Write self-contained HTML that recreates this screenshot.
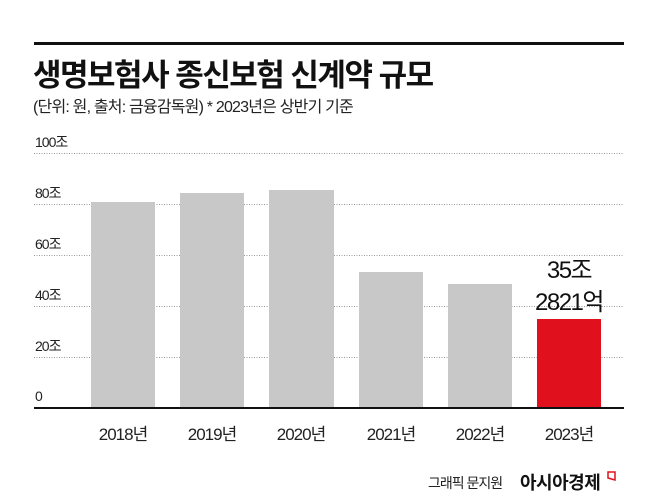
<!DOCTYPE html>
<html><head><meta charset="utf-8"><style>
body{margin:0;background:#fff;}
svg text{font-family:"Liberation Sans","Noto Sans CJK KR",sans-serif;}
</style></head><body>
<svg width="658" height="499" xmlns="http://www.w3.org/2000/svg">
<rect width="658" height="499" fill="#fff"/>
<rect x="34" y="42" width="590" height="3" fill="#111"/>
<text x="33" y="86" font-size="31" font-weight="bold" fill="#111" letter-spacing="-1.5">생명보험사 종신보험 신계약 규모</text>
<text x="33" y="112" font-size="16" fill="#222" letter-spacing="-0.8">(단위: 원, 출처: 금융감독원)  * 2023년은 상반기 기준</text>
<g stroke="#999" stroke-width="1" stroke-dasharray="1,1.5">
<line x1="34" y1="153.5" x2="624" y2="153.5"/>
<line x1="34" y1="204.5" x2="624" y2="204.5"/>
<line x1="34" y1="255.5" x2="624" y2="255.5"/>
<line x1="34" y1="306.5" x2="624" y2="306.5"/>
<line x1="34" y1="357.5" x2="624" y2="357.5"/>
</g>
<g font-size="14" fill="#222" letter-spacing="-1">
<text x="35" y="147">100조</text>
<text x="35" y="198">80조</text>
<text x="35" y="249">60조</text>
<text x="35" y="300">40조</text>
<text x="35" y="351">20조</text>
<text x="35" y="401">0</text>
</g>
<g fill="#c8c8c8">
<rect x="91" y="202" width="64" height="206"/>
<rect x="180" y="193" width="64" height="215"/>
<rect x="269" y="190" width="65" height="218"/>
<rect x="359" y="272" width="64" height="136"/>
<rect x="448" y="284" width="64" height="124"/>
</g>
<rect x="537" y="319" width="64" height="89" fill="#e0101c"/>
<rect x="34" y="407" width="590" height="2" fill="#111"/>
<g font-size="24" fill="#111" text-anchor="middle" letter-spacing="-1.5">
<text x="569" y="278">35조</text>
<text x="569" y="310">2821억</text>
</g>
<g font-size="17" fill="#222" text-anchor="middle" letter-spacing="-1">
<text x="123" y="440">2018년</text>
<text x="212" y="440">2019년</text>
<text x="301" y="440">2020년</text>
<text x="391" y="440">2021년</text>
<text x="480" y="440">2022년</text>
<text x="569" y="440">2023년</text>
</g>
<text x="428" y="488" font-size="14" fill="#222" letter-spacing="-1">그래픽 문지원</text>
<text x="520" y="489" font-size="18" font-weight="bold" fill="#111" letter-spacing="-0.5">아시아경제</text>
<path d="M608 472 h7 v8 l-7 -2 z" fill="none" stroke="#e0101c" stroke-width="1.5"/>
</svg>
</body></html>
